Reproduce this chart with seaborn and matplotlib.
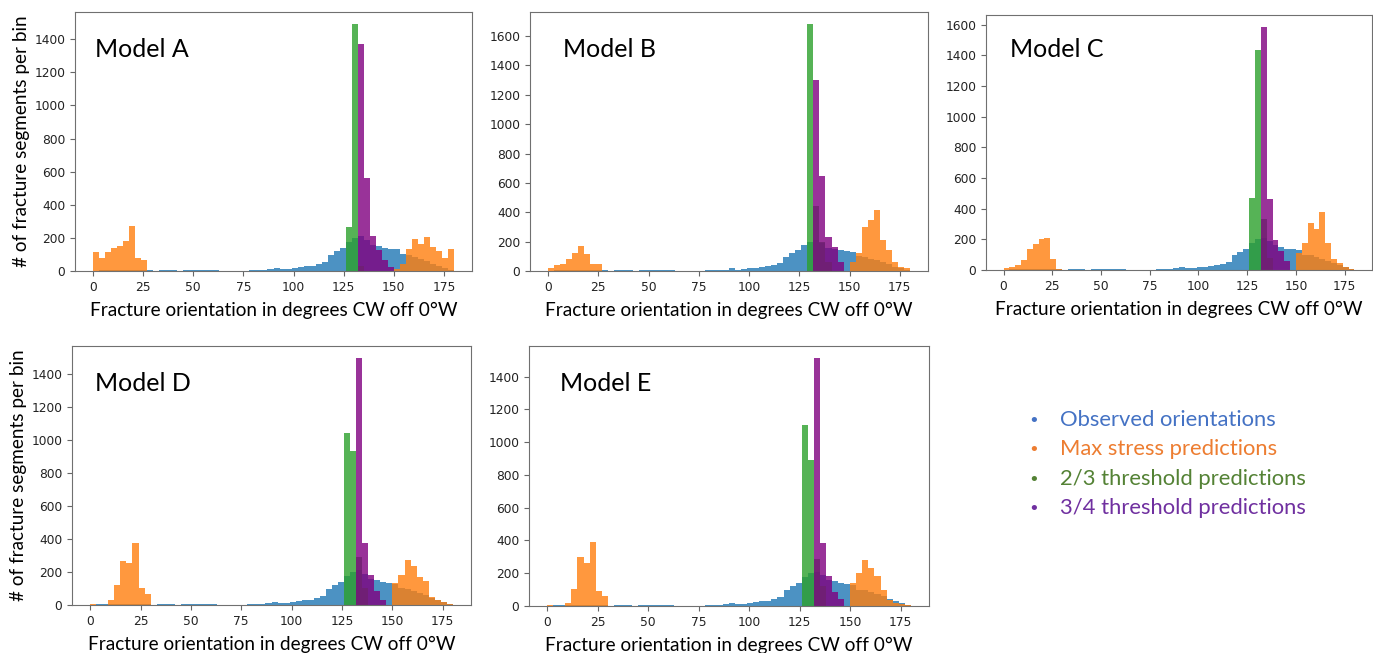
import numpy as np
import pandas as pd
import seaborn as sns
import matplotlib.pyplot as plt

# 3-degree bins from 0 to 180 degrees
bin_edges = np.arange(0, 181, 3)
bin_centers = bin_edges[:-1] + 1.5

observed = [0, 4, 5, 5, 5, 5, 5, 5, 5, 6,
            2, 8, 8, 8, 3, 8, 8, 8, 8, 8,
            7, 0, 0, 0, 0, 3, 8, 8, 9, 10,
            20, 10, 12, 18, 22, 28, 32, 40, 55, 95,
            120, 140, 175, 200, 210, 190, 160, 150, 140, 135,
            130, 100, 95, 85, 75, 60, 45, 30, 18, 8]

max_stress_A = [115, 79, 115, 141, 150, 180, 273, 79, 65] + [0] * 41 + [15, 40, 135, 196, 166, 206, 145, 121, 79, 135]
thresh23_A = [0] * 42 + [266, 1490, 30] + [0] * 15
thresh34_A = [0] * 44 + [1370, 560, 212, 127, 66, 26] + [0] * 10

max_stress_B = [20, 39, 50, 84, 125, 168, 114, 50, 50] + [0] * 41 + [60, 125, 300, 345, 414, 214, 141, 61, 27, 20]
thresh23_B = [0] * 43 + [1680, 440, 200, 60] + [0] * 13
thresh34_B = [0] * 44 + [1300, 650, 230, 165, 60] + [0] * 11

max_stress_C = [13, 22, 30, 63, 135, 172, 204, 211, 74, 9] + [0] * 40 + [109, 178, 309, 265, 378, 178, 70, 43, 20, 9]
thresh23_C = [0] * 42 + [467, 1435, 330, 80] + [0] * 14
thresh34_C = [0] * 44 + [1585, 461, 196, 124, 59] + [0] * 11

max_stress_D = [8, 0, 0, 28, 123, 269, 255, 376, 103, 67] + [0] * 40 + [133, 180, 275, 234, 170, 143, 46, 28, 16, 8]
thresh23_D = [0] * 42 + [1040, 931, 289, 100] + [0] * 14
thresh34_D = [0] * 44 + [1493, 376, 180, 87, 32] + [0] * 11

max_stress_E = [8, 0, 0, 20, 102, 298, 261, 388, 94, 63] + [0] * 40 + [139, 204, 282, 231, 186, 98, 35, 20, 12, 8]
thresh23_E = [0] * 42 + [1104, 894, 286, 120] + [0] * 14
thresh34_E = [0] * 44 + [1512, 384, 184, 88, 41] + [0] * 11

model_names = ["Model A", "Model B", "Model C", "Model D", "Model E"]
max_stress = [max_stress_A, max_stress_B, max_stress_C, max_stress_D, max_stress_E]
thresh23 = [thresh23_A, thresh23_B, thresh23_C, thresh23_D, thresh23_E]
thresh34 = [thresh34_A, thresh34_B, thresh34_C, thresh34_D, thresh34_E]

legend_labels = ["Observed orientations", "Max stress predictions",
                 "2/3 threshold predictions", "3/4 threshold predictions"]
legend_colors = ["#4472C4", "#ED7D31", "#548235", "#7030A0"]
bar_colors = ["tab:blue", "tab:orange", "tab:green", "purple"]

xlabel = "Fracture orientation in degrees CW off 0°W"
ylabel = "# of fracture segments per bin"

W, H = 1373, 653
fig = plt.figure(figsize=(W / 100, H / 100), dpi=100)

# panel boxes in pixels: left, top, right, bottom
boxes = [(75, 12, 472, 271), (530, 12, 928, 271), (986, 15, 1372, 270),
         (72, 346, 471, 605), (529, 346, 929, 606)]
name_pos = [(95, 57), (563, 57), (1010, 57), (95, 391), (560, 391)]

for i, (l, t, r, b) in enumerate(boxes):
    ax = fig.add_axes([l / W, 1 - b / H, (r - l) / W, (b - t) / H])
    series = [observed, max_stress[i], thresh23[i], thresh34[i]]
    for vals, col in zip(series, bar_colors):
        df = pd.DataFrame({"angle": bin_centers, "count": vals})
        sns.histplot(data=df, x="angle", weights="count", binwidth=3,
                     binrange=(0, 180), color=col, alpha=0.8, linewidth=0, ax=ax)
    ax.set_xticks([0, 25, 50, 75, 100, 125, 150, 175])
    ax.tick_params(labelsize=8.8, length=3.5, color="#666666", labelcolor="#222222")
    for s in ax.spines.values():
        s.set_color("#707070")
    ax.set_xlabel(xlabel, fontsize=13.7, family="Lato", labelpad=6)
    if i in (0, 3):
        ax.set_ylabel(ylabel, fontsize=13.6, family="Lato", labelpad=3)
    else:
        ax.set_ylabel("")
    nx, ny = name_pos[i]
    fig.text(nx / W, 1 - ny / H, model_names[i], fontsize=18, family="Lato",
             va="baseline")

for k, (lab, col) in enumerate(zip(legend_labels, legend_colors)):
    y = 1 - (426 + k * 29.3) / H
    fig.text(1028 / W, y, "•", fontsize=13, color=col, va="baseline")
    fig.text(1060 / W, y, lab, fontsize=15.8, color=col, family="Lato", va="baseline")

fig.savefig("out.png", dpi=100)
